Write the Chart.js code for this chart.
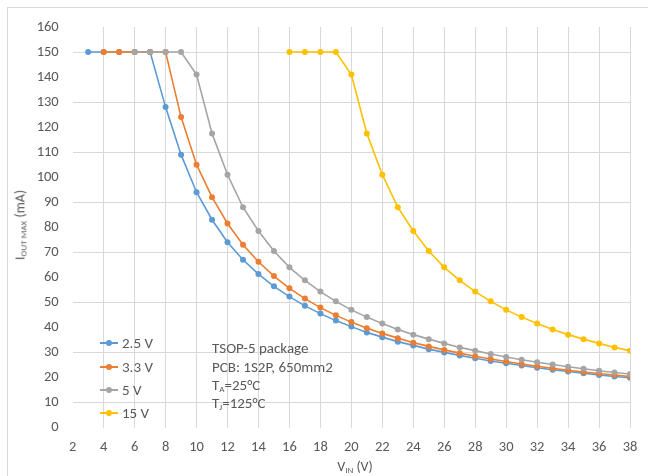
<!DOCTYPE html>
<html>
<head>
<meta charset="utf-8">
<script src="https://cdn.jsdelivr.net/npm/chart.js@4"></script>
<style>
  html, body { margin: 0; padding: 0; background: #fff; }
  body { font-family: Carlito, Lato, "Open Sans", sans-serif; color: #595959; }
  #wrap { position: relative; width: 650px; height: 476px; overflow: hidden; }
  #chart { position: absolute; left: 0; top: 0; }
  .frame { position: absolute; left: 7px; top: 7px; width: 640px; height: 470px;
           border-top: 1px solid #d9d9d9; border-left: 1px solid #d9d9d9; }
  #yTitle { position: absolute; left: 20px; top: 225px; font-size: 14px; white-space: nowrap;
            transform: translate(-50%, -50%) rotate(-90deg); }
  #xTitle { position: absolute; left: 355px; top: 466px; font-size: 14px; white-space: nowrap;
            transform: translate(-50%, -50%); }
  sub { font-size: 9px; vertical-align: -2px; }
  .legend-item { position: absolute; left: 100px; height: 18px; display: flex; align-items: center;
                 font-size: 15px; transform: translateY(-50%); }
  .legend-mark { position: relative; width: 18px; height: 2px; margin-right: 4px; }
  .legend-mark i { position: absolute; left: 6px; top: -2px; width: 6px; height: 6px; border-radius: 50%; }
  .note { position: absolute; left: 212px; font-size: 15px; white-space: nowrap; transform: translateY(-50%); }
</style>
</head>
<body>
<div id="wrap">
  <div class="frame"></div>
  <canvas id="chart" width="650" height="476"></canvas>
  <div id="yTitle">I<sub>OUT MAX</sub> (mA)</div>
  <div id="xTitle">V<sub>IN</sub> (V)</div>
  <div id="legend"></div>
  <div class="note" style="top:348px">TSOP-5 package</div>
  <div class="note" style="top:367px">PCB: 1S2P, 650mm2</div>
  <div class="note" style="top:385px">T<sub>A</sub>=25°C</div>
  <div class="note" style="top:403px">T<sub>J</sub>=125°C</div>
</div>
<script>
// ── Data ────────────────────────────────────────────────────
const seriesLabels = ["2.5 V", "3.3 V", "5 V", "15 V"];
const seriesColors = ["#5B9BD5", "#ED7D31", "#A5A5A5", "#FFC000"];

const vin25 = [3,4,5,6,7,8,9,10,11,12,13,14,15,16,17,18,19,20,21,22,23,24,25,26,27,28,29,30,31,32,33,34,35,36,37,38];
const iout25 = [150,150,150,150,150,128,109,94,83,74,67,61.3,56.4,52.3,48.6,45.5,42.7,40.3,38,36.1,34.3,32.8,31.3,30,28.8,27.7,26.6,25.7,24.8,23.9,23.1,22.4,21.7,21,20.4,19.9];

const vin33 = [4,5,6,7,8,9,10,11,12,13,14,15,16,17,18,19,20,21,22,23,24,25,26,27,28,29,30,31,32,33,34,35,36,37,38];
const iout33 = [150,150,150,150,150,124,105,92,81.5,73,66.2,60.5,55.6,51.5,47.9,44.8,42.1,39.7,37.6,35.7,33.9,32.4,31,29.7,28.5,27.4,26.4,25.4,24.5,23.7,22.9,22.2,21.6,21,20.4];

const vin5 = [6,7,8,9,10,11,12,13,14,15,16,17,18,19,20,21,22,23,24,25,26,27,28,29,30,31,32,33,34,35,36,37,38];
const iout5 = [150,150,150,150,141,117.5,101,88,78.5,70.5,64,58.8,54.3,50.4,47,44.1,41.5,39.2,37.1,35.3,33.6,32,30.7,29.4,28.2,27.1,26.1,25.2,24.3,23.5,22.7,22,21.4];

const vin15 = [16,17,18,19,20,21,22,23,24,25,26,27,28,29,30,31,32,33,34,35,36,37,38];
const iout15 = [150,150,150,150,141,117.5,101,88,78.5,70.5,64,58.8,54.3,50.4,47,44.1,41.5,39.2,37.1,35.3,33.6,32,30.7];

const xMin = 2, xMax = 38, xStep = 2;
const yMin = 0, yMax = 160, yStep = 10;

// ── Build datasets ──────────────────────────────────────────
const pairs = [[vin25, iout25], [vin33, iout33], [vin5, iout5], [vin15, iout15]];

const datasets = pairs.map(([xs, ys], i) => ({
  label: seriesLabels[i],
  data: xs.map((x, k) => ({ x, y: ys[k] })),
  borderColor: seriesColors[i],
  backgroundColor: seriesColors[i],
  borderWidth: 1.6,
  pointRadius: 3,
  pointBorderWidth: 0,
  tension: 0,
  order: pairs.length - i,   // later series on top, like Excel
}));

const tickFont = { family: "Carlito, Lato, 'Open Sans', sans-serif", size: 14.5 };

new Chart(document.getElementById("chart"), {
  type: "line",
  data: { datasets },
  options: {
    responsive: false,
    animation: false,
    layout: { padding: { left: 0, top: 27, right: 20, bottom: 0 } },
    plugins: { legend: { display: false }, tooltip: { enabled: false } },
    scales: {
      x: {
        type: "linear",
        min: xMin, max: xMax,
        ticks: { stepSize: xStep, color: "#595959", font: tickFont, padding: 11, maxRotation: 0 },
        grid: {
          drawTicks: false,
          color: (c) => (c.tick && c.tick.value === xMin ? "rgba(0,0,0,0)" : "#d9d9d9"),
        },
        border: { display: false },
        afterFit: (s) => { s.height = 48.5; },
      },
      y: {
        min: yMin, max: yMax,
        ticks: { stepSize: yStep, color: "#595959", font: tickFont, padding: 14 },
        grid: {
          drawTicks: false,
          color: (c) => (c.tick && c.tick.value % 20 === 10 ? "#d9d9d9" : "rgba(0,0,0,0)"),
        },
        border: { display: false },
        afterFit: (s) => { s.width = 72.7; },
      },
    },
  },
});

// ── Custom legend (inside plot, bottom-left) ───────────────
const legendTops = [343, 367, 390, 413];
document.getElementById("legend").innerHTML = seriesLabels.map((lbl, i) => `
  <div class="legend-item" style="top:${legendTops[i]}px">
    <span class="legend-mark" style="background:${seriesColors[i]}"><i style="background:${seriesColors[i]}"></i></span>${lbl}
  </div>`).join("");
</script>
</body>
</html>
